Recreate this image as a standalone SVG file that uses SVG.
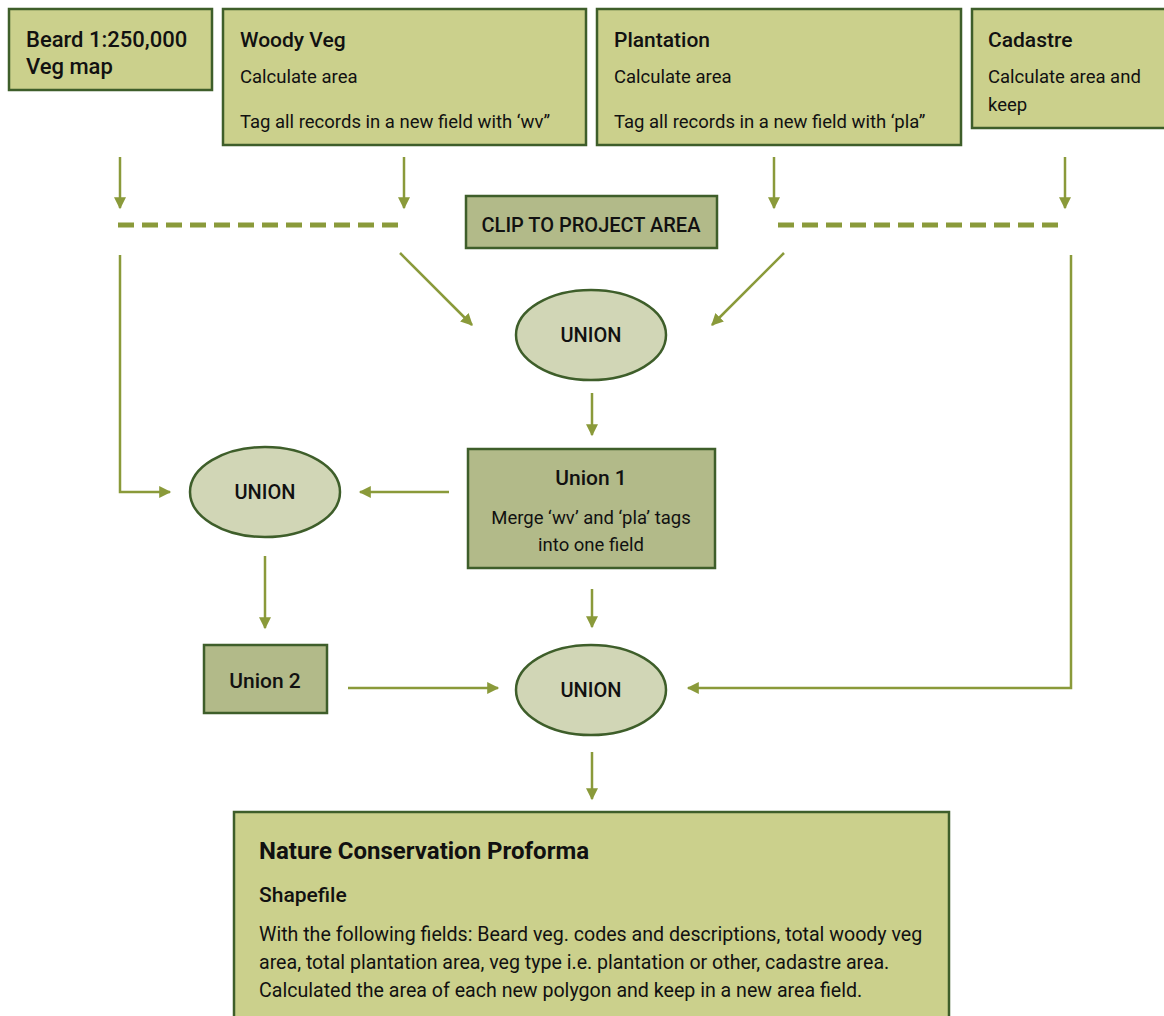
<svg xmlns="http://www.w3.org/2000/svg" width="1164" height="1016" viewBox="0 0 1164 1016">
<defs>
<marker id="ah" viewBox="0 0 10 10" refX="9" refY="5" markerWidth="13" markerHeight="12" markerUnits="userSpaceOnUse" orient="auto">
<path d="M0,0 L10,5 L0,10 Z" fill="#8a9a3a"/>
</marker>
<style>
.box{fill:#cbd08c;stroke:#3e5e2a;stroke-width:2.5}
.dbox{fill:#b2ba89;stroke:#3e5e2a;stroke-width:2.5}
.ell{fill:#d1d6b6;stroke:#3e5e2a;stroke-width:2.5}
.c{fill:none;stroke:#8a9a3a;stroke-width:2.5}
.dash{fill:none;stroke:#8a9a3a;stroke-width:5;stroke-dasharray:16 8}
text{font-family:Roboto,"Liberation Sans",sans-serif;fill:#111}
.t{font-size:21px;font-weight:500}
.b{font-size:18.5px;font-weight:400}
.h{font-size:20px;font-weight:500}
.p{font-size:19.6px;font-weight:400}
</style>
</defs>
<rect width="1164" height="1016" fill="#fff"/>
<g id="connectors">
<line class="c" x1="120" y1="157" x2="120" y2="208" style="marker-end:url(#ah)"/>
<line class="c" x1="404" y1="157" x2="404" y2="208" style="marker-end:url(#ah)"/>
<line class="c" x1="774" y1="157" x2="774" y2="208" style="marker-end:url(#ah)"/>
<line class="c" x1="1065" y1="157" x2="1065" y2="208" style="marker-end:url(#ah)"/>
<line class="dash" x1="118" y1="225" x2="406" y2="225"/>
<line class="dash" x1="778" y1="225" x2="1066" y2="225"/>
<polyline class="c" points="120,255 120,492 170,492" style="marker-end:url(#ah)"/>
<line class="c" x1="400" y1="253" x2="472" y2="325" style="marker-end:url(#ah)"/>
<line class="c" x1="784" y1="253" x2="712" y2="325" style="marker-end:url(#ah)"/>
<line class="c" x1="592" y1="393" x2="592" y2="435" style="marker-end:url(#ah)"/>
<line class="c" x1="449" y1="492" x2="360" y2="492" style="marker-end:url(#ah)"/>
<line class="c" x1="265" y1="556" x2="265" y2="628" style="marker-end:url(#ah)"/>
<line class="c" x1="592" y1="589" x2="592" y2="627" style="marker-end:url(#ah)"/>
<line class="c" x1="348" y1="688" x2="498" y2="688" style="marker-end:url(#ah)"/>
<polyline class="c" points="1071,255 1071,688 688,688" style="marker-end:url(#ah)"/>
<line class="c" x1="592" y1="752" x2="592" y2="799" style="marker-end:url(#ah)"/>
</g>
<g id="beard">
<rect class="box" x="9" y="9" width="203" height="81"/>
<text class="t" x="26" y="47" style="font-size:22px">Beard 1:250,000</text>
<text class="t" x="26" y="74" style="font-size:22px">Veg map</text>
</g>
<g id="woody">
<rect class="box" x="223" y="9" width="363" height="136"/>
<text class="t" x="240" y="47">Woody Veg</text>
<text class="b" x="240" y="83">Calculate area</text>
<text class="b" x="240" y="128">Tag all records in a new field with ‘wv”</text>
</g>
<g id="plantation">
<rect class="box" x="597" y="9" width="364" height="136"/>
<text class="t" x="614" y="47">Plantation</text>
<text class="b" x="614" y="83">Calculate area</text>
<text class="b" x="614" y="128">Tag all records in a new field with ‘pla”</text>
</g>
<g id="cadastre">
<rect class="box" x="972" y="9" width="200" height="119"/>
<text class="t" x="988" y="47">Cadastre</text>
<text class="b" x="988" y="83">Calculate area and</text>
<text class="b" x="988" y="111">keep</text>
</g>
<g id="clip">
<rect class="dbox" x="466" y="196" width="251" height="52"/>
<text class="h" x="591" y="232" text-anchor="middle">CLIP TO PROJECT AREA</text>
</g>
<g id="union-top">
<ellipse class="ell" cx="591" cy="335" rx="75" ry="45"/>
<text class="h" x="591" y="342" text-anchor="middle">UNION</text>
</g>
<g id="union1">
<rect class="dbox" x="468" y="449" width="247" height="119"/>
<text class="t" x="591" y="485" text-anchor="middle">Union 1</text>
<text class="b" x="591" y="524" text-anchor="middle">Merge ‘wv’ and ‘pla’ tags</text>
<text class="b" x="591" y="551" text-anchor="middle">into one field</text>
</g>
<g id="union-left">
<ellipse class="ell" cx="265" cy="492" rx="75" ry="45"/>
<text class="h" x="265" y="499" text-anchor="middle">UNION</text>
</g>
<g id="union2">
<rect class="dbox" x="204" y="645" width="123" height="68"/>
<text class="t" x="265" y="688" text-anchor="middle">Union 2</text>
</g>
<g id="union-bottom">
<ellipse class="ell" cx="591" cy="690" rx="75" ry="45"/>
<text class="h" x="591" y="697" text-anchor="middle">UNION</text>
</g>
<g id="proforma">
<rect class="box" x="234" y="812" width="715" height="220"/>
<text x="259" y="859" style="font-size:24px;font-weight:700">Nature Conservation Proforma</text>
<text class="t" x="259" y="902">Shapefile</text>
<text class="p" x="259" y="941">With the following fields: Beard veg. codes and descriptions, total woody veg</text>
<text class="p" x="259" y="969">area, total plantation area, veg type i.e. plantation or other, cadastre area.</text>
<text class="p" x="259" y="997">Calculated the area of each new polygon and keep in a new area field.</text>
</g>
</svg>
